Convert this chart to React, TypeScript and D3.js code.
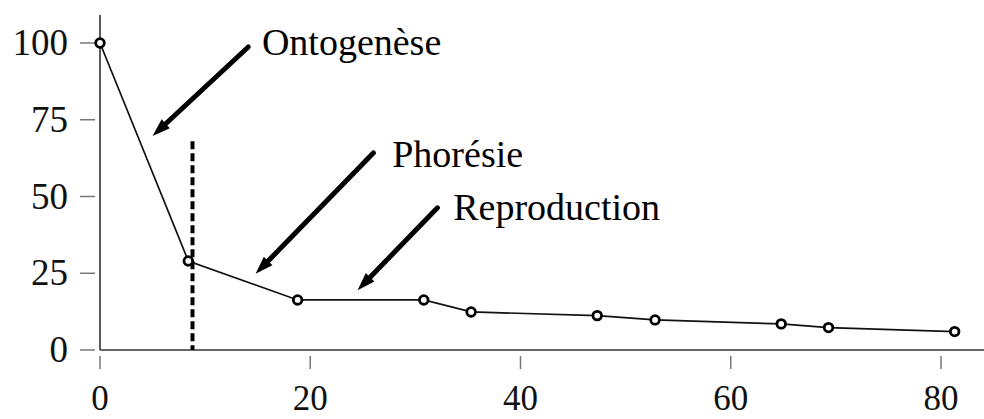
import React from 'react'
import * as d3 from 'd3'

// temps (jours) et survie (%)
const days = [0, 8.4, 18.8, 30.8, 35.3, 47.3, 52.8, 64.8, 69.3, 81.3]
const survival = [100, 29.0, 16.3, 16.3, 12.4, 11.2, 9.8, 8.5, 7.3, 6.0]
const xTicks = [0, 20, 40, 60, 80]
const yTicks = [0, 25, 50, 75, 100]

// limite ontogenèse / phorésie
const phaseLimit = 8.8
const phaseLimitTop = 68

// annotations: flèche (début -> pointe) et libellé, en unités des données
const labels = ['Ontogenèse', 'Phorésie', 'Reproduction']
const arrowFrom = [[14.1, 98.7], [26.0, 64.2], [32.1, 46.3]]
const arrowTo = [[5.0, 69.7], [14.8, 24.8], [24.5, 19.5]]
const labelAt = [[15.4, 96.1], [27.8, 59.6], [33.6, 42.3]]

const W = 984
const H = 419
const FONT = '"Liberation Serif", "Times New Roman", serif'

export default function App() {
  const x = d3.scaleLinear().domain([0, 80]).range([100, 941])
  const y = d3.scaleLinear().domain([0, 100]).range([350, 43])

  const pts = days.map((d, i) => [x(d), y(survival[i])] as [number, number])
  const line = d3.line()(pts) || ''

  const arrows = labels.map((label, i) => {
    const [x1, y1] = [x(arrowFrom[i][0]), y(arrowFrom[i][1])]
    const [x2, y2] = [x(arrowTo[i][0]), y(arrowTo[i][1])]
    const a = Math.atan2(y2 - y1, x2 - x1)
    const len = 18
    const hw = 6
    const bx = x2 - len * Math.cos(a)
    const by = y2 - len * Math.sin(a)
    const px = -Math.sin(a) * hw
    const py = Math.cos(a) * hw
    const head = `M${x2},${y2}L${bx + px},${by + py}L${bx - px},${by - py}Z`
    return { label, x1, y1, bx, by, head, tx: x(labelAt[i][0]), ty: y(labelAt[i][1]) }
  })

  return (
    <div style={{ position: 'absolute', left: 0, top: 0 }}>
      <svg width={W} height={H} style={{ display: 'block', background: '#fff' }}>
        {/* axes */}
        <line x1={x(0)} x2={x(0)} y1={15} y2={y(0)} stroke="#333" strokeWidth={1.6} />
        <line x1={x(0)} x2={W} y1={y(0)} y2={y(0)} stroke="#333" strokeWidth={1.6} />

        {yTicks.map((t) => (
          <g key={`yt-${t}`}>
            <line x1={80} x2={95} y1={y(t)} y2={y(t)} stroke="#777" strokeWidth={1.5} />
            <text
              x={68}
              y={y(t) + 12}
              textAnchor="end"
              fontFamily={FONT}
              fontSize={37}
              fill="#111"
            >
              {t}
            </text>
          </g>
        ))}

        {xTicks.map((t) => (
          <g key={`xt-${t}`}>
            <line x1={x(t)} x2={x(t)} y1={356} y2={369} stroke="#777" strokeWidth={1.5} />
            <text
              x={x(t)}
              y={410}
              textAnchor="middle"
              fontFamily={FONT}
              fontSize={35}
              fill="#111"
            >
              {t}
            </text>
          </g>
        ))}

        {/* limite de phase */}
        <line
          x1={x(phaseLimit)}
          x2={x(phaseLimit)}
          y1={y(phaseLimitTop)}
          y2={y(0)}
          stroke="#000"
          strokeWidth={4}
          strokeDasharray="8 4"
        />

        {/* courbe */}
        <path d={line} fill="none" stroke="#111" strokeWidth={1.7} />
        {pts.map(([cx, cy], i) => (
          <circle key={`p-${i}`} cx={cx} cy={cy} r={4.3} fill="#fff" stroke="#000" strokeWidth={2.8} />
        ))}

        {/* annotations */}
        {arrows.map((a) => (
          <g key={a.label}>
            <line x1={a.x1} y1={a.y1} x2={a.bx} y2={a.by} stroke="#000" strokeWidth={5} strokeLinecap="round" />
            <path d={a.head} fill="#000" />
            <text x={a.tx} y={a.ty} fontFamily={FONT} fontSize={38} fill="#000">
              {a.label}
            </text>
          </g>
        ))}
      </svg>
    </div>
  )
}
